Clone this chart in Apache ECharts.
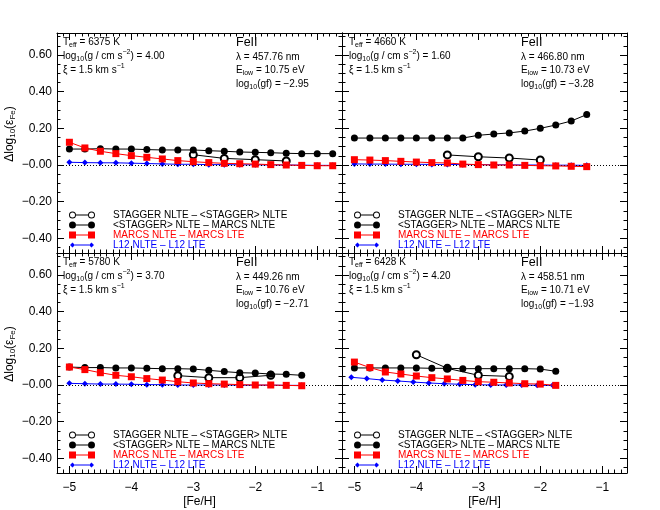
<!DOCTYPE html>
<html>
<head>
<meta charset="utf-8">
<script src="https://cdn.jsdelivr.net/npm/echarts@6/dist/echarts.min.js"></script>
<style>
html, body { margin: 0; padding: 0; background: #fff; }
#chart { width: 660px; height: 510px; }
</style>
</head>
<body>
<div id="chart"></div>
<script>
var FONT = '"Liberation Sans", Arial, Helvetica, sans-serif';

// [Fe/H] grid of the model atmospheres
var feGrid = [-5.0, -4.75, -4.5, -4.25, -4.0, -3.75, -3.5, -3.25, -3.0, -2.75, -2.5, -2.25, -2.0, -1.75, -1.5, -1.25, -1.0, -0.75];

var xTicks = [-5, -4, -3, -2, -1];
var yTicks = [-0.4, -0.2, 0, 0.2, 0.4, 0.6];

var seriesNames = ['STAGGER NLTE \u2013 <STAGGER> NLTE', '<STAGGER> NLTE \u2013 MARCS NLTE', 'MARCS NLTE \u2013 MARCS LTE', 'L12 NLTE \u2013 L12 LTE'];

// panel 1 (top left)
var p1Info = ['6375', '4.00', '457.76', '10.75', '\u22122.95'];
var p1StagX = [-3.0, -2.5, -2.0, -1.5];
var p1Stag = [0.056, 0.036, 0.029, 0.022];
var p1Mean = [0.087, 0.087, 0.089, 0.087, 0.087, 0.084, 0.082, 0.082, 0.082, 0.078, 0.075, 0.071, 0.069, 0.067, 0.064, 0.062, 0.062, 0.062];
var p1Marcs = [0.124, 0.093, 0.075, 0.062, 0.051, 0.042, 0.033, 0.024, 0.018, 0.013, 0.009, 0.007, 0.005, 0.002, 0.000, -0.002, -0.004, -0.004];
var p1L12 = [0.015, 0.013, 0.012, 0.012, 0.010, 0.008, 0.006, 0.004, 0.004, 0.002, 0.002, 0.001, 0.001, 0.000, 0.000, -0.001, -0.002, -0.002];

// panel 2 (top right)
var p2Info = ['4660', '1.60', '466.80', '10.73', '\u22123.28'];
var p2StagX = [-3.5, -3.0, -2.5, -2.0];
var p2Stag = [0.055, 0.045, 0.038, 0.027];
var p2Mean = [0.147, 0.147, 0.147, 0.147, 0.147, 0.147, 0.147, 0.147, 0.162, 0.169, 0.175, 0.185, 0.200, 0.218, 0.240, 0.275];
var p2Marcs = [0.029, 0.027, 0.024, 0.020, 0.016, 0.013, 0.011, 0.005, 0.002, 0.000, 0.000, -0.002, -0.004, -0.005, -0.007, -0.009];
var p2L12 = [0.006, 0.005, 0.005, 0.004, 0.004, 0.003, 0.003, 0.002, 0.002, 0.001, 0.001, 0.000, 0.000, -0.001, -0.001, -0.002];

// panel 3 (bottom left)
var p3Info = ['5780', '3.70', '449.26', '10.76', '\u22122.71'];
var p3StagX = [-3.25, -2.75, -2.25, -1.75];
var p3Stag = [0.051, 0.040, 0.040, 0.053];
var p3Mean = [0.098, 0.095, 0.095, 0.093, 0.093, 0.091, 0.089, 0.089, 0.087, 0.080, 0.073, 0.067, 0.065, 0.060, 0.058, 0.053];
var p3Marcs = [0.098, 0.084, 0.067, 0.053, 0.045, 0.035, 0.027, 0.018, 0.011, 0.007, 0.005, 0.002, 0.000, 0.000, -0.002, -0.004];
var p3L12 = [0.009, 0.007, 0.005, 0.005, 0.004, 0.002, 0.002, 0.000, 0.000, 0.000, 0.000, -0.001, -0.001, -0.001, -0.002, -0.002];

// panel 4 (bottom right)
var p4Info = ['6428', '4.20', '458.51', '10.71', '\u22121.93'];
var p4StagX = [-4.0, -3.5, -3.0, -2.5];
var p4Stag = [0.165, 0.091, 0.053, 0.047];
var p4Mean = [0.093, 0.093, 0.093, 0.093, 0.093, 0.091, 0.091, 0.089, 0.089, 0.089, 0.089, 0.089, 0.087, 0.075];
var p4Marcs = [0.125, 0.095, 0.071, 0.060, 0.049, 0.040, 0.033, 0.025, 0.018, 0.015, 0.011, 0.007, 0.005, -0.002];
var p4L12X = [-5.05, -4.8, -4.55, -4.3, -4.05, -3.8, -3.55, -3.3, -3.05, -2.8, -2.55, -2.3, -2.05, -1.8];
var p4L12 = [0.042, 0.035, 0.027, 0.022, 0.016, 0.011, 0.007, 0.004, 0.002, 0.000, 0.000, 0.000, -0.002, -0.002];

var X_MIN = -5.2, X_MAX = -0.6, Y_MIN = -0.48, Y_MAX = 0.72;
var W = 285, H = 220;
var gridPos = [[57, 33], [342, 33], [57, 253], [342, 253]];

// minor tick positions
var xMinor = [], yMinor = [];
for (var i = -52; i <= -6; i++) xMinor.push(i / 10);
for (var j = -9; j <= 14; j++) yMinor.push(j / 20);

// legend icons: line with a marker at both ends
var iconOpen = 'path://M0,4a3.5,3.5 0 1,0 7,0a3.5,3.5 0 1,0 -7,0ZM1,4a2.5,2.5 0 1,1 5,0a2.5,2.5 0 1,1 -5,0ZM7,3.5H19V4.5H7ZM19,4a3.5,3.5 0 1,0 7,0a3.5,3.5 0 1,0 -7,0ZM20,4a2.5,2.5 0 1,1 5,0a2.5,2.5 0 1,1 -5,0Z';
var iconFilled = 'path://M0,4a3.5,3.5 0 1,0 7,0a3.5,3.5 0 1,0 -7,0ZM7,3.5H19V4.5H7ZM19,4a3.5,3.5 0 1,0 7,0a3.5,3.5 0 1,0 -7,0Z';
var iconSquare = 'path://M0,0.5H7V7.5H0ZM7,3.5H19V4.5H7ZM19,0.5H26V7.5H19Z';
var iconDiamond = 'path://M1,4L3.5,1.5L6,4L3.5,6.5ZM6,3.5H20V4.5H6ZM20,4L22.5,1.5L25,4L22.5,6.5ZM0,0.5H0.01V7.5H0ZM25.99,0.5H26V7.5H25.99Z';

function fmtX(v) {
	return (v < 0 ? '\u2212' : '') + Math.abs(v);
}

function fmtY(v) {
	return (v <= 0 ? '\u2212' : '') + Math.abs(v).toFixed(2);
}

function pairs(xs, ys) {
	var out = [];
	for (var k = 0; k < ys.length; k++) out.push([xs[k], ys[k]]);
	return out;
}

function tickAxis(g, pos, isX, major, showLabel, showName) {
	var minor = isX ? xMinor : yMinor;
	var base = {
		type: 'value', gridIndex: g, position: pos,
		min: isX ? X_MIN : Y_MIN, max: isX ? X_MAX : Y_MAX,
		splitLine: { show: false }
	};
	var main = Object.assign({}, base, {
		axisLine: { show: major, onZero: false, lineStyle: { color: '#000', width: 1 } },
		axisTick: { show: true, inside: true, length: major ? 7 : 3.5, customValues: major ? (isX ? xTicks : yTicks) : minor, lineStyle: { color: '#000', width: 1 } },
		axisLabel: {
			show: !!showLabel, customValues: isX ? xTicks : yTicks,
			formatter: isX ? fmtX : fmtY, color: '#000', fontSize: 12, fontFamily: FONT,
			margin: isX ? 9 : 5
		}
	});
	if (showName && isX) {
		main.name = '[Fe/H]';
		main.nameLocation = 'middle';
		main.nameGap = 23;
		main.nameTextStyle = { color: '#000', fontSize: 12, fontFamily: FONT };
	}
	if (showName && !isX) {
		main.name = '\u0394log{s|10}(\u03b5{s|Fe})';
		main.nameLocation = 'middle';
		main.nameGap = 40;
		main.nameRotate = 90;
		main.nameTextStyle = {
			color: '#000', fontSize: 12, fontFamily: FONT, lineHeight: 14, padding: [0, 0, 0, 18],
			rich: { s: { fontSize: 8, fontFamily: FONT, lineHeight: 8, verticalAlign: 'bottom', color: '#000' } }
		};
	}
	return main;
}

var option = {
	animation: false,
	backgroundColor: '#fff',
	grid: [], xAxis: [], yAxis: [], series: [], legend: [], graphic: []
};

function addPanel(g, info, stagX, stag, mean, marcs, l12X, l12) {
	var left = gridPos[g][0], top = gridPos[g][1];
	var isLeft = (g % 2 === 0), isBottom = (g >= 2);
	option.grid.push({ left: left, top: top, width: W, height: H });

	// x axes: bottom major/minor, top major/minor
	option.xAxis.push(tickAxis(g, 'bottom', true, true, isBottom, isBottom));
	option.xAxis.push(tickAxis(g, 'bottom', true, false));
	option.xAxis.push(tickAxis(g, 'top', true, true));
	option.xAxis.push(tickAxis(g, 'top', true, false));
	// y axes: left major/minor, right major/minor
	option.yAxis.push(tickAxis(g, 'left', false, true, isLeft, isLeft));
	option.yAxis.push(tickAxis(g, 'left', false, false));
	option.yAxis.push(tickAxis(g, 'right', false, true));
	option.yAxis.push(tickAxis(g, 'right', false, false));

	var ax = { xAxisIndex: g * 4, yAxisIndex: g * 4 };
	var common = { type: 'line', silent: true, lineStyle: { width: 1 }, emphasis: { disabled: true } };

	option.series.push(Object.assign({}, common, ax, {
		name: seriesNames[3], data: pairs(l12X, l12),
		symbol: 'diamond', symbolSize: 6,
		itemStyle: { color: '#0000ff' }, lineStyle: { color: '#0000ff', width: 1 },
		markLine: {
			silent: true, symbol: ['none', 'none'], label: { show: false },
			lineStyle: { color: '#000', type: [1, 2], width: 1 },
			data: [{ yAxis: 0 }]
		},
		z: 2
	}));
	option.series.push(Object.assign({}, common, ax, {
		name: seriesNames[0], data: pairs(stagX, stag),
		symbol: 'emptyCircle', symbolSize: 7,
		itemStyle: { color: '#000', borderWidth: 1 }, lineStyle: { color: '#000', width: 1 },
		z: 3
	}));
	option.series.push(Object.assign({}, common, ax, {
		name: seriesNames[1], data: pairs(feGrid, mean),
		symbol: 'circle', symbolSize: 7,
		itemStyle: { color: '#000' }, lineStyle: { color: '#000', width: 1 },
		z: 4
	}));
	option.series.push(Object.assign({}, common, ax, {
		name: seriesNames[2], data: pairs(feGrid, marcs),
		symbol: 'rect', symbolSize: 7,
		itemStyle: { color: '#ff0000' }, lineStyle: { color: '#ff0000', width: 1 },
		z: 5
	}));

	option.legend.push({
		orient: 'vertical', left: left + 12, top: top + 177, padding: 0,
		itemWidth: 26, itemHeight: 7, itemGap: 0, selectedMode: false,
		itemStyle: { borderWidth: 0 },
		textStyle: { fontSize: 10, fontFamily: FONT, lineHeight: 10, padding: [0, 0, 0, 13] },
		data: [
			{ name: seriesNames[0], icon: iconOpen, itemStyle: { color: '#000', borderWidth: 0 }, textStyle: { color: '#000' } },
			{ name: seriesNames[1], icon: iconFilled, itemStyle: { color: '#000', borderWidth: 0 }, textStyle: { color: '#000' } },
			{ name: seriesNames[2], icon: iconSquare, itemStyle: { color: '#ff0000', borderWidth: 0 }, textStyle: { color: '#ff0000' } },
			{ name: seriesNames[3], icon: iconDiamond, itemStyle: { color: '#0000ff', borderWidth: 0 }, textStyle: { color: '#0000ff' } }
		]
	});

	var rich = {
		sub: { fontSize: 7, fontFamily: FONT, lineHeight: 8, verticalAlign: 'bottom', fill: '#000' },
		sup: { fontSize: 7, fontFamily: FONT, lineHeight: 8, verticalAlign: 'top', fill: '#000' }
	};
	var dx = isLeft ? 6 : 7;
	option.graphic.push({
		type: 'text', x: left + dx, y: top + 2, silent: true,
		style: {
			text: 'T{sub|eff} = ' + info[0] + ' K\nlog{sub|10}(g / cm s{sup|\u22122}) = ' + info[1] + '\n\u03be = 1.5 km s{sup|\u22121}',
			font: '10px ' + FONT, fill: '#000', lineHeight: 14, rich: rich
		}
	});
	option.graphic.push({
		type: 'text', x: left + 179, y: top + 3, silent: true,
		style: { text: 'FeII', font: '12.5px ' + FONT, fill: '#000' }
	});
	option.graphic.push({
		type: 'text', x: left + 179, y: top + 17, silent: true,
		style: {
			text: '\u03bb = ' + info[2] + ' nm\nE{sub|low} = ' + info[3] + ' eV\nlog{sub|10}(gf) = ' + info[4],
			font: '10px ' + FONT, fill: '#000', lineHeight: 13.5, rich: rich
		}
	});
}

addPanel(0, p1Info, p1StagX, p1Stag, p1Mean, p1Marcs, feGrid, p1L12);
addPanel(1, p2Info, p2StagX, p2Stag, p2Mean, p2Marcs, feGrid, p2L12);
addPanel(2, p3Info, p3StagX, p3Stag, p3Mean, p3Marcs, feGrid, p3L12);
addPanel(3, p4Info, p4StagX, p4Stag, p4Mean, p4Marcs, p4L12X, p4L12);

var chart = echarts.init(document.getElementById('chart'));
chart.setOption(option);
</script>
</body>
</html>
